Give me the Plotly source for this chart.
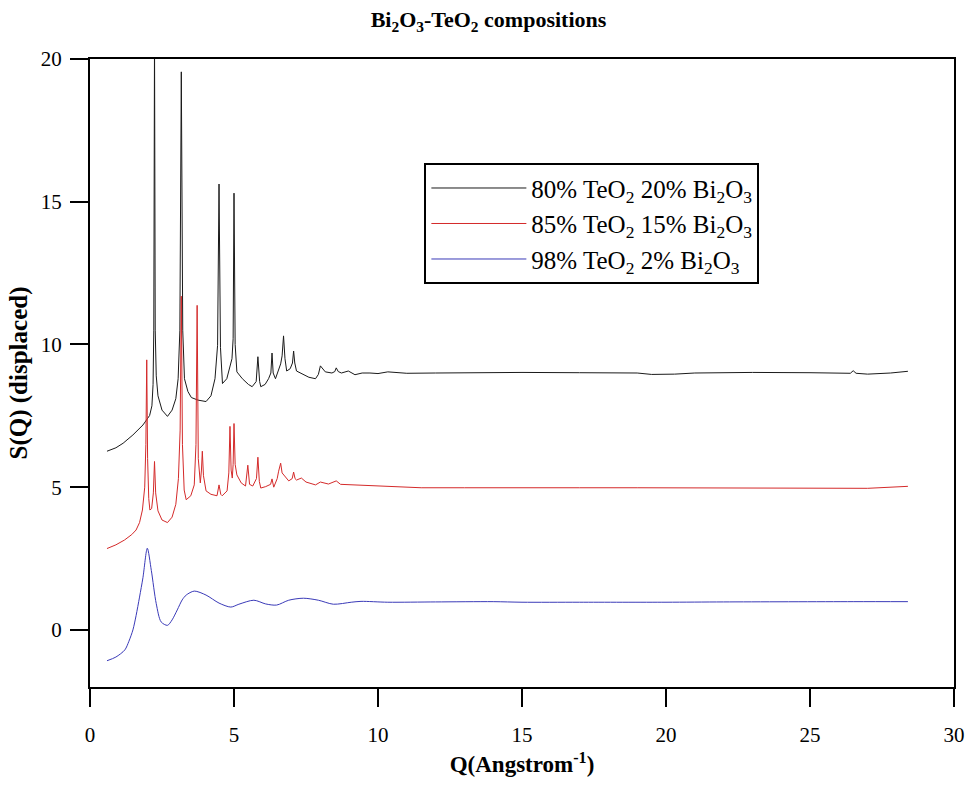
import plotly.graph_objects as go

# --- S(Q) curves, each displaced vertically for clarity ---
q_80 = [0.59, 0.9, 1.15, 1.49, 1.84, 2.07, 2.15, 2.19, 2.215, 2.24, 2.265, 2.30, 2.36, 2.5, 2.69,
        2.85, 2.98, 3.06, 3.12, 3.17, 3.22, 3.28, 3.4, 3.52, 3.75, 4.03, 4.2, 4.34, 4.43, 4.48,
        4.53, 4.6, 4.75, 4.86, 4.93, 4.97, 5.0, 5.04, 5.1, 5.29, 5.5, 5.63, 5.77, 5.83, 5.89,
        5.93, 6.08, 6.2, 6.28, 6.32, 6.36, 6.44, 6.55, 6.62, 6.67, 6.72, 6.77, 6.83, 6.95, 7.03,
        7.07, 7.11, 7.17, 7.4, 7.6, 7.83, 7.93, 8.0, 8.07, 8.17, 8.4, 8.5, 8.55, 8.62, 8.73,
        8.97, 9.2, 9.45, 9.72, 10.0, 10.34, 11.0, 12.0, 13.5, 15.0, 17.0, 19.0, 19.5, 20.3,
        21.0, 23.0, 25.0, 26.4, 26.5, 26.6, 27.0, 27.8, 28.4]
s_80 = [6.26, 6.38, 6.54, 6.83, 7.18, 7.51, 7.85, 8.6, 10.5, 20.8, 10.5, 8.9, 8.2, 7.7, 7.48,
        7.7, 8.1, 8.8, 10.5, 19.55, 10.5, 8.8, 8.35, 8.14, 8.05, 8.0, 8.2, 8.8, 9.97, 15.62,
        9.9, 8.63, 8.8, 9.3, 9.5, 10.2, 15.3, 10.0, 9.04, 8.8, 8.6, 8.52, 8.7, 9.57, 8.7,
        8.52, 8.6, 8.8, 9.0, 9.7, 9.0, 8.8, 9.1, 9.32, 9.6, 10.3, 9.5, 9.07, 9.15, 9.35,
        9.77, 9.35, 9.07, 8.95, 8.85, 8.8, 8.95, 9.25, 9.15, 9.04, 9.0, 9.05, 9.18, 9.05, 9.0,
        9.07, 8.94, 9.0, 9.0, 8.98, 9.04, 8.99, 9.0, 9.02, 9.02, 9.01, 9.0, 8.95, 8.96,
        9.0, 9.02, 9.01, 8.99, 9.08, 8.99, 8.96, 9.0, 9.06]

q_85 = [0.59, 0.9, 1.2, 1.45, 1.6, 1.72, 1.82, 1.9, 1.94, 1.97, 2.0, 2.04, 2.08, 2.14, 2.2,
        2.24, 2.28, 2.36, 2.5, 2.69, 2.85, 2.98, 3.07, 3.13, 3.17, 3.21, 3.27, 3.34, 3.5, 3.62,
        3.68, 3.72, 3.76, 3.83, 3.87, 3.9, 3.94, 4.03, 4.2, 4.41, 4.48, 4.54, 4.59, 4.76, 4.82,
        4.86, 4.9, 4.94, 4.97, 5.0, 5.04, 5.1, 5.25, 5.4, 5.48, 5.54, 5.65, 5.78, 5.83, 5.88,
        5.93, 6.1, 6.27, 6.32, 6.38, 6.5, 6.55, 6.62, 6.67, 6.72, 6.9, 7.02, 7.07, 7.12, 7.17,
        7.34, 7.5, 7.83, 8.0, 8.28, 8.55, 8.7, 9.2, 9.7, 10.34, 11.5, 13.0, 15.0, 17.0, 19.0,
        21.0, 23.0, 25.0, 27.0, 28.4]
s_85 = [2.85, 2.98, 3.15, 3.34, 3.5, 3.76, 4.2, 5.0, 6.5, 9.46, 6.0, 4.6, 4.2, 4.25, 4.8,
        5.9, 4.8, 4.17, 3.85, 3.76, 3.95, 4.4, 5.3, 7.0, 11.69, 6.5, 4.9, 4.56, 4.7, 5.08,
        6.5, 11.37, 6.0, 5.15, 5.6, 6.26, 5.4, 4.87, 4.75, 4.7, 5.08, 4.75, 4.7, 4.87, 5.5,
        7.13, 5.6, 5.32, 5.8, 7.23, 5.8, 5.43, 5.15, 5.04, 5.77, 5.1, 5.04, 5.3, 6.05, 5.2,
        4.97, 5.02, 5.1, 5.29, 5.0, 5.3, 5.56, 5.84, 5.5, 5.43, 5.22, 5.3, 5.53, 5.3, 5.25,
        5.32, 5.18, 5.08, 5.18, 5.11, 5.22, 5.1, 5.08, 5.06, 5.04, 4.98, 4.98, 4.97, 4.98, 4.98,
        4.98, 4.97, 4.97, 4.96, 5.03]

q_98 = [0.59, 0.9, 1.21, 1.35, 1.49, 1.6, 1.72, 1.84, 1.99, 2.13, 2.3, 2.47, 2.69, 2.85, 3.03,
        3.2, 3.34, 3.62, 4.03, 4.48, 4.89, 5.17, 5.69, 6.1, 6.48, 6.9, 7.41, 7.93, 8.45, 9.07,
        9.41, 10.34, 12.0, 14.0, 15.0, 17.0, 20.0, 22.0, 26.5, 28.4]
s_98 = [-1.08, -0.95, -0.7, -0.4, 0.0, 0.5, 1.15, 1.84, 2.86, 2.08, 0.92, 0.28, 0.16, 0.35, 0.7,
        1.05, 1.22, 1.36, 1.22, 0.94, 0.8, 0.9, 1.04, 0.91, 0.87, 1.04, 1.11, 1.04, 0.9, 0.97,
        1.0, 0.97, 0.98, 0.99, 0.97, 0.97, 0.97, 0.98, 0.99, 0.99]

names = ["80% TeO<sub>2</sub> 20% Bi<sub>2</sub>O<sub>3</sub>",
         "85% TeO<sub>2</sub> 15% Bi<sub>2</sub>O<sub>3</sub>",
         "98% TeO<sub>2</sub> 2% Bi<sub>2</sub>O<sub>3</sub>"]
colors = ["#1a1a1a", "#d42a2a", "#3a3ab8"]

x_ticks = [0, 5, 10, 15, 20, 25, 30]
y_ticks = [0, 5, 10, 15, 20]

SERIF = "Liberation Serif, Times New Roman, serif"

fig = go.Figure()
fig.add_trace(go.Scatter(x=q_80, y=s_80, mode="lines", name=names[0], legendgroup="a",
                         line=dict(color=colors[0], width=1)))
fig.add_trace(go.Scatter(x=q_85, y=s_85, mode="lines", name=names[1], legendgroup="b",
                         line=dict(color=colors[1], width=1)))
fig.add_trace(go.Scatter(x=q_98, y=s_98, mode="lines", name=names[2], legendgroup="c",
                         line=dict(color=colors[2], width=1, shape="spline", smoothing=0.8)))

axis_common = dict(
    showline=True, linewidth=2, linecolor="black", mirror=True,
    ticks="outside", ticklen=18, tickwidth=2, tickcolor="black",
    showgrid=False, zeroline=False,
    tickfont=dict(family=SERIF, size=21, color="black"),
)

fig.update_layout(
    width=977, height=785,
    margin=dict(l=90, r=16, t=59, b=94),
    paper_bgcolor="white", plot_bgcolor="white",
    title=dict(text="<b>Bi<sub>2</sub>O<sub>3</sub>-TeO<sub>2</sub> compositions</b>",
               x=0.5, xref="container", xanchor="center",
               y=0.975, yref="container", yanchor="middle",
               font=dict(family=SERIF, size=22, color="black")),
    xaxis=dict(range=[0, 30], tickvals=x_ticks, ticklabelstandoff=10,
               title=dict(text="<b>Q(Angstrom<sup>-1</sup>)</b>", standoff=10,
                          font=dict(family=SERIF, size=23, color="black")),
               **axis_common),
    yaxis=dict(range=[-2, 20], tickvals=y_ticks, ticklabelstandoff=4,
               title=dict(text="<b>S(Q) (displaced)</b>", standoff=6,
                          font=dict(family=SERIF, size=25, color="black")),
               **axis_common),
    showlegend=True,
    legend=dict(x=0.387, y=0.834, xanchor="left", yanchor="top",
                bordercolor="black", borderwidth=2, bgcolor="white",
                font=dict(family=SERIF, size=25, color="black"),
                tracegroupgap=0, itemwidth=95,
                traceorder="normal"),
)

fig.write_html("out.html")
